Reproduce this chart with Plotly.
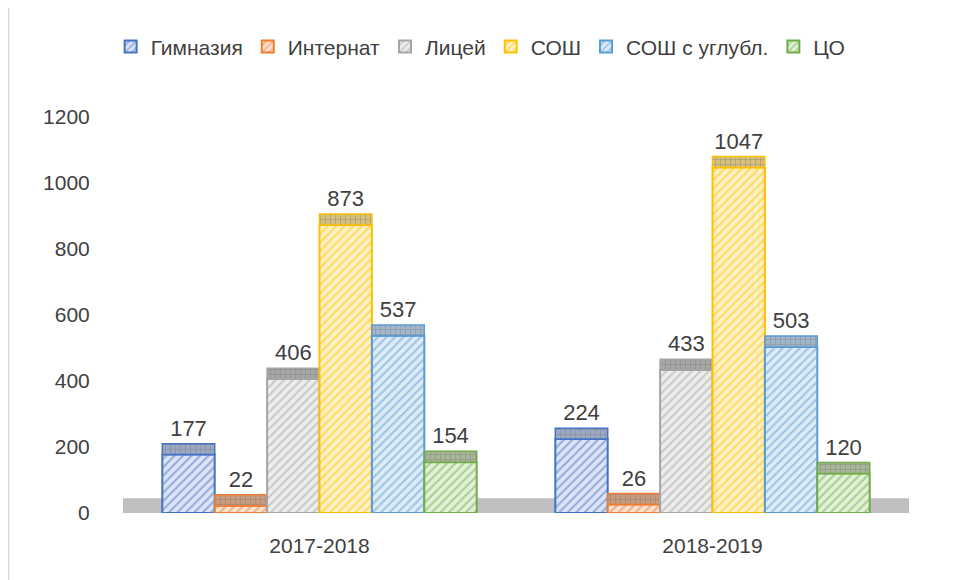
import plotly.graph_objects as go

categories = ["2017-2018", "2018-2019"]
series_names = ["Гимназия", "Интернат", "Лицей", "СОШ", "СОШ с углубл.", "ЦО"]
gimnazia = [177, 224]
internat = [22, 26]
licey = [406, 433]
sosh = [873, 1047]
sosh_ugl = [537, 503]
co = [154, 120]
y_ticks = [0, 200, 400, 600, 800, 1000, 1200]

values = [gimnazia, internat, licey, sosh, sosh_ugl, co]
colors = ["#4472C4", "#ED7D31", "#A5A5A5", "#FFC000", "#5B9BD5", "#70AD47"]
tints = ["#DCE4F4", "#FBE2D3", "#EDEDED", "#FFF1C4", "#DEEBF7", "#E2F0D9"]
cap_colors = ["#9AA8C4", "#C99A7C", "#A6A6A6", "#D8C07A", "#A3B7CC", "#A5B796"]

FONT = "Liberation Sans"
GROUP = 0.8
n = len(series_names)
w = GROUP / n
CAP = 33  # visual depth of the 3D top face, in axis units

fig = go.Figure()
for i, (name, vals, c, t, cc) in enumerate(zip(series_names, values, colors, tints, cap_colors)):
    off = -GROUP / 2 + i * w
    fig.add_trace(go.Bar(
        name=name, x=categories, y=vals, offset=off, width=w,
        marker=dict(color=t, line=dict(color=c, width=2),
                    pattern=dict(shape="/", fgcolor=c, bgcolor=t, size=6,
                                 solidity=0.35, fillmode="overlay")),
        hoverinfo="skip",
    ))
    fig.add_trace(go.Bar(
        name=name + " top", x=categories, y=[CAP] * len(vals), base=vals,
        offset=off, width=w, showlegend=False,
        text=[str(v) for v in vals], textposition="outside",
        textfont=dict(size=22, color="#404040", family=FONT),
        cliponaxis=False,
        marker=dict(color=cc, line=dict(color=c, width=1.5),
                    pattern=dict(shape="+", fgcolor="#808080", bgcolor=cc, size=5,
                                 solidity=0.3, fillmode="overlay")),
        hoverinfo="skip",
    ))

# floor
fig.add_shape(type="rect", xref="x", yref="y", x0=-0.5, x1=1.5, y0=0, y1=45,
              fillcolor="#BFBFBF", line=dict(width=0), layer="below")
# chart frame left edge
fig.add_shape(type="line", xref="paper", yref="paper", x0=-0.1455, x1=-0.1455,
              y0=-0.2, y1=1.3, line=dict(color="#D9D9D9", width=1.5))

fig.update_layout(
    width=955, height=580,
    margin=dict(l=115, r=54, t=109, b=75),
    paper_bgcolor="white", plot_bgcolor="white",
    barmode="overlay",
    showlegend=True,
    legend=dict(orientation="h", x=0.455, xanchor="center", y=1.177, yanchor="middle",
                font=dict(size=21, color="#404040", family=FONT),
                itemwidth=30, traceorder="normal"),
    xaxis=dict(range=[-0.5, 1.5], showline=False, showgrid=False,
               ticks="outside", ticklen=14, tickcolor="white",
               tickfont=dict(size=21, color="#404040", family=FONT)),
    yaxis=dict(range=[0, 1200], tickvals=y_ticks, showgrid=False, zeroline=False,
               showline=False, ticks="outside", ticklen=28, tickcolor="white",
               tickfont=dict(size=21, color="#404040", family=FONT)),
)

fig.write_html("out.html")
